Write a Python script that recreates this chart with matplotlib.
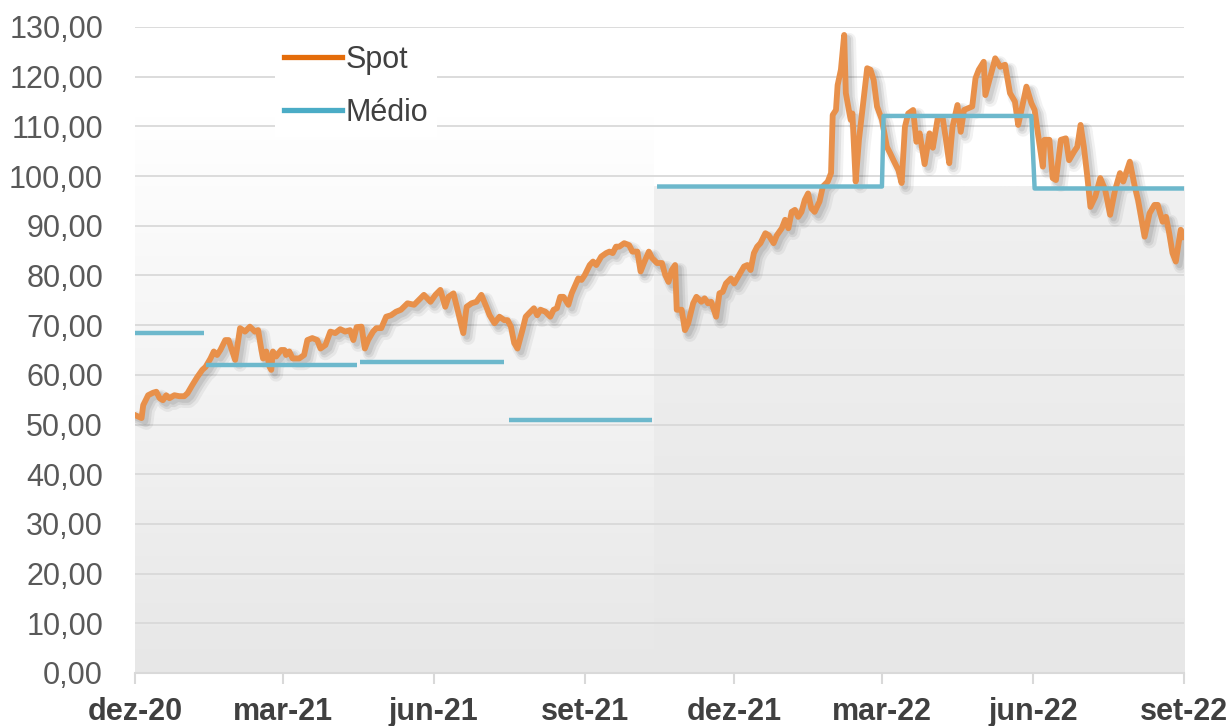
import numpy as np
import matplotlib
matplotlib.use('Agg')
import matplotlib.pyplot as plt
import matplotlib.patheffects as pe
import matplotlib.dates as mdates
from matplotlib.colors import LinearSegmentedColormap
from matplotlib.lines import Line2D
from matplotlib.ticker import FuncFormatter, FixedLocator

plt.rcParams['font.family'] = ['Liberation Sans', 'DejaVu Sans']

# dias contados a partir de 01/12/2020
data_base = np.datetime64('2020-12-01')

dias_spot = [0, 4, 5, 8, 11, 13, 15, 17, 19, 21, 24, 27, 30, 32, 35, 38, 41, 43, 46, 48,
             50, 52, 55, 57, 59, 61, 62, 64, 67, 70, 73, 75, 77, 78, 80, 82, 83, 84, 86, 89,
             91, 92, 94, 96, 100, 103, 105, 108, 111, 113, 116, 119, 122, 125, 128, 131, 133, 135, 138, 140,
             142, 145, 147, 150, 153, 156, 159, 162, 166, 170, 173, 176, 180, 183, 186, 189, 191, 194, 197, 199,
             200, 202, 205, 208, 211, 214, 216, 219, 222, 225, 227, 229, 231, 233, 236, 238, 240, 243, 245, 247,
             250, 253, 255, 257, 259, 261, 264, 266, 270, 272, 274, 277, 279, 281, 284, 287, 289, 291, 293, 295,
             298, 301, 303, 306, 308, 310, 313, 315, 318, 321, 323, 325, 327, 329, 330, 333, 335, 337, 340, 342,
             345, 347, 349, 351, 354, 356, 358, 360, 363, 365, 368, 371, 373, 375, 377, 379, 381, 384, 386, 389,
             391, 394, 396, 398, 400, 402, 404, 406, 408, 410, 412, 414, 417, 419, 422, 424, 425, 427, 428, 430,
             432, 433, 435, 436, 437, 439, 441, 444, 446, 448, 450, 452, 455, 458, 460, 462, 465, 467, 469, 471,
             474, 476, 478, 481, 484, 486, 489, 492, 494, 496, 498, 501, 503, 505, 510, 512, 514, 517, 518, 521,
             524, 527, 530, 533, 536, 538, 540, 543, 546, 548, 550, 553, 554, 557, 559, 561, 564, 567, 569, 572,
             574, 576, 578, 580, 582, 585, 588, 591, 594, 597, 600, 602, 606, 609, 611, 615, 618, 621, 623, 626,
             628, 630, 632, 634, 637, 639]

spot = [51.9, 51.3, 53.9, 55.9, 56.4, 56.6, 55.3, 54.9, 55.9, 55.3, 55.9, 55.7, 55.7, 56.3, 58.0, 59.6, 61.0, 61.6, 63.3, 64.7,
        64.0, 65.0, 67.0, 67.0, 65.0, 63.0, 65.0, 69.4, 68.7, 69.7, 68.7, 69.0, 65.0, 63.3, 64.7, 61.6, 61.0, 64.7, 63.7, 65.0,
        65.0, 64.0, 64.7, 63.3, 63.3, 64.0, 67.0, 67.4, 67.0, 65.3, 66.0, 68.7, 68.4, 69.2, 68.7, 69.0, 67.0, 69.6, 69.7, 65.3,
        67.0, 68.7, 69.4, 69.4, 71.7, 72.0, 72.7, 73.1, 74.4, 74.1, 75.1, 76.1, 74.7, 76.1, 77.1, 73.7, 75.7, 76.4, 72.4, 69.7,
        68.4, 73.7, 74.4, 74.7, 76.1, 73.7, 72.0, 70.4, 71.7, 71.0, 71.0, 69.7, 66.4, 65.3, 69.0, 71.7, 72.4, 73.4, 72.0, 73.1,
        72.7, 71.7, 73.1, 73.4, 75.7, 75.7, 74.1, 76.4, 79.4, 79.1, 80.1, 82.1, 82.8, 82.1, 83.8, 84.5, 84.8, 84.5, 85.8, 85.8,
        86.5, 86.1, 84.8, 84.8, 80.8, 82.5, 84.8, 83.5, 82.5, 82.5, 80.1, 78.7, 81.1, 82.1, 73.1, 73.1, 69.0, 70.4, 74.4, 75.7,
        74.7, 75.4, 74.4, 74.7, 71.7, 76.4, 76.7, 78.4, 79.4, 78.4, 80.1, 81.8, 82.1, 81.1, 84.5, 85.8, 86.5, 88.5, 88.1, 86.5,
        88.1, 89.5, 91.2, 89.5, 92.8, 93.2, 91.8, 92.8, 95.2, 96.5, 93.5, 92.8, 94.9, 97.9, 98.9, 100.6, 112.3, 113.3, 118.3, 121.4,
        128.4, 116.7, 113.0, 111.3, 112.6, 98.9, 107.3, 116.0, 121.7, 121.4, 119.3, 114.0, 111.3, 105.9, 104.6, 103.2, 101.2, 98.6, 109.9, 112.6,
        113.3, 106.9, 108.6, 102.4, 108.6, 105.7, 111.7, 111.7, 107.3, 102.6, 109.9, 114.3, 108.9, 113.3, 114.0, 119.7, 121.4, 123.0, 116.3, 120.0,
        123.7, 122.0, 122.4, 116.7, 115.0, 110.3, 113.3, 118.0, 114.7, 113.3, 108.6, 101.9, 107.3, 107.3, 99.6, 99.2, 107.3, 107.6, 103.2, 104.9,
        105.9, 110.3, 105.9, 100.2, 93.8, 95.9, 99.6, 97.2, 92.2, 97.2, 100.6, 98.9, 102.9, 97.9, 95.2, 87.8, 92.5, 94.2, 94.2, 90.8,
        91.8, 88.5, 84.5, 82.8, 89.2, 87.8]

# preço médio por período (inicio, fim em dias)
medio_inicio = [0, 43, 137, 228, 318, 456, 548]
medio_fim = [42, 135, 225, 315, 455, 546, 639]
medio_valor = [68.5, 62.0, 62.6, 50.9, 97.9, 112.1, 97.5]
# a partir do 5o período a linha é contínua
n_isolados = 4

ticks_dias = [0, 90, 182, 274, 365, 455, 547, 639]
rotulos_x = ['dez-20', 'mar-21', 'jun-21', 'set-21', 'dez-21', 'mar-22', 'jun-22', 'set-22']


def datas(dias):
    return mdates.date2num(data_base + np.array(dias).astype('timedelta64[D]'))


fig = plt.figure(figsize=(12.32, 7.26), dpi=100)
ax = fig.add_axes([135 / 1232, 53 / 726, 1049 / 1232, 646 / 726])

# fundo em degradê
x0, xm, xm2, x1 = datas([0, 316, 316, 639])
cm_esq = LinearSegmentedColormap.from_list('esq', ['#e7e7e7', '#f3f3f3', '#ffffff'])
cm_dir = LinearSegmentedColormap.from_list('dir', ['#e7e7e7', '#f0f0f0'])
grad = np.linspace(0, 1, 256).reshape(-1, 1)
ax.imshow(grad, cmap=cm_esq, origin='lower', extent=[x0, xm, 0, 112], aspect='auto', zorder=0)
ax.imshow(grad, cmap=cm_dir, origin='lower', extent=[xm2, x1, 0, 98], aspect='auto', zorder=0)

cor_spot = '#e8904a'
cor_medio = '#6db8cc'

ax.plot(datas(dias_spot), spot, color=cor_spot, lw=4.2, solid_joinstyle='round', zorder=3,
        path_effects=[pe.SimpleLineShadow(offset=(3.5, -3.5), shadow_color='k', alpha=0.05, linewidth=10),
                      pe.SimpleLineShadow(offset=(3, -3), shadow_color='k', alpha=0.07, linewidth=7),
                      pe.SimpleLineShadow(offset=(2.5, -2.5), shadow_color='k', alpha=0.08, linewidth=4.5),
                      pe.Normal()])

for i in range(n_isolados):
    ax.plot(datas([medio_inicio[i], medio_fim[i]]), [medio_valor[i]] * 2,
            color=cor_medio, lw=3.2, solid_capstyle='butt', zorder=4)

xs, ys = [], []
for i in range(n_isolados, len(medio_valor)):
    xs += [medio_inicio[i], medio_fim[i]]
    ys += [medio_valor[i], medio_valor[i]]
ax.plot(datas(xs), ys, color=cor_medio, lw=3.2, solid_capstyle='butt', zorder=4)

ax.set_xlim(x0, x1)
ax.set_ylim(0, 130)
ax.set_yticks(np.arange(0, 131, 10))
ax.yaxis.set_major_formatter(FuncFormatter(lambda v, p: f'{v:.2f}'.replace('.', ',')))
ax.xaxis.set_major_locator(FixedLocator(datas(ticks_dias)))
ax.set_xticklabels(rotulos_x, fontweight='bold')

ax.yaxis.grid(True, color='#d9d9d9', linewidth=1.3)
ax.set_axisbelow(True)
for s in ['left', 'top', 'right']:
    ax.spines[s].set_visible(False)
ax.spines['bottom'].set_color('#d9d9d9')
ax.spines['bottom'].set_linewidth(1.5)
ax.tick_params(axis='y', length=0, pad=23, labelsize=22, labelcolor='#595959')
ax.tick_params(axis='x', direction='out', length=8, width=1.5, color='#d9d9d9',
               pad=9, labelsize=22, labelcolor='#404040')

handles = [Line2D([], [], color='#e46c0a', lw=3.8),
           Line2D([], [], color='#4bacc6', lw=3.8)]
leg = fig.legend(handles, ['Spot', 'Médio'], loc='upper left',
                 bbox_to_anchor=(275 / 1232, 1 - 36 / 726), bbox_transform=fig.transFigure,
                 fontsize=22, frameon=True, fancybox=False, framealpha=1,
                 handlelength=1.9, handletextpad=0.1, labelspacing=0.75, borderpad=0.3,
                 borderaxespad=0)
leg.get_frame().set_facecolor('white')
leg.get_frame().set_edgecolor('none')
for t in leg.get_texts():
    t.set_color('#404040')

plt.savefig('out.png', dpi=100)
